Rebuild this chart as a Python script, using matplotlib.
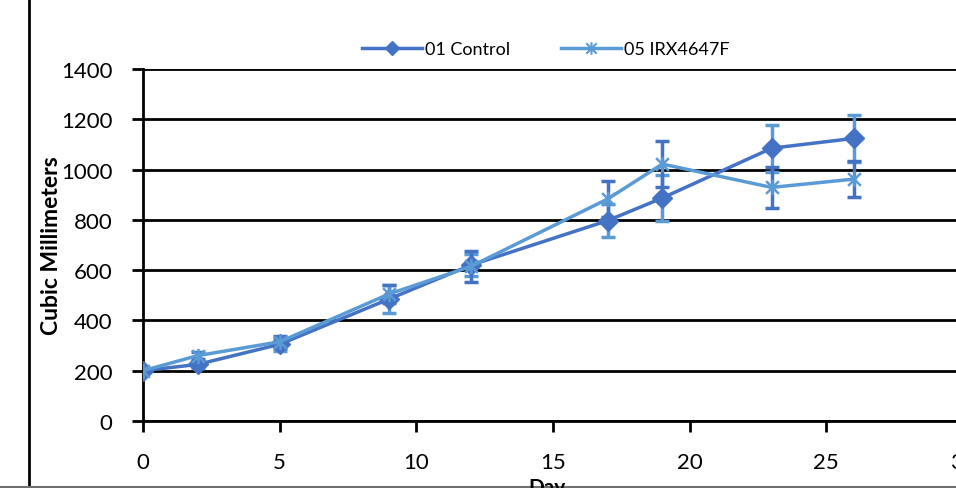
import matplotlib
matplotlib.use("Agg")
import matplotlib.pyplot as plt
from matplotlib.path import Path
from matplotlib.lines import Line2D

plt.rcParams['font.family'] = ['Lato', 'DejaVu Sans']

days = [0, 2, 5, 9, 12, 17, 19, 23, 26]
control = [200, 225, 305, 485, 620, 797, 887, 1085, 1124]
control_err = [5, 15, 25, 55, 45, 66, 90, 94, 93]
irx = [200, 260, 315, 505, 615, 883, 1022, 929, 962]
irx_err = [5, 15, 25, 35, 62, 73, 90, 83, 72]

series_names = ["01 Control", "05 IRX4647F"]
x_ticks = [0, 5, 10, 15, 20, 25, 30]
y_ticks = [0, 200, 400, 600, 800, 1000, 1200, 1400]

c_dark = "#4472C4"
c_light = "#5B9BD5"

star = Path([(-1, -1), (1, 1), (-1, 1), (1, -1), (0, -1.2), (0, 1.2)],
            [Path.MOVETO, Path.LINETO, Path.MOVETO, Path.LINETO, Path.MOVETO, Path.LINETO])

W, H = 956, 489
fig = plt.figure(figsize=(W / 100, H / 100), dpi=100)
ax = fig.add_axes([143 / W, 67 / H, 820 / W, 352 / H])

ax.set_xlim(0, 30)
ax.set_ylim(0, 1400)
ax.set_xticks(x_ticks)
ax.set_yticks(y_ticks)
ax.yaxis.grid(True, color="black", lw=2)
ax.set_axisbelow(True)
for s in ["top", "right"]:
    ax.spines[s].set_visible(False)
ax.spines["left"].set_linewidth(2)
ax.spines["bottom"].set_linewidth(2)
ax.tick_params(axis="both", length=8, width=2, labelsize=16, pad=14)

# error bars (colors as in reference)
ax.errorbar(days, control, yerr=control_err, fmt="none", ecolor=c_light,
            elinewidth=2.5, capsize=5, capthick=2.5, zorder=3)
ax.errorbar(days, irx, yerr=irx_err, fmt="none", ecolor=c_dark,
            elinewidth=2.5, capsize=5, capthick=2.5, zorder=3)

ax.plot(days, control, color=c_dark, lw=2.5, marker="D", markersize=10,
        zorder=4, label=series_names[0])
ax.plot(days, irx, color=c_light, lw=2.5, marker=star, markersize=11,
        markeredgewidth=1.8, zorder=5, label=series_names[1])

ax.set_ylabel("Cubic Millimeters", fontsize=16.5, fontweight="bold")
ax.yaxis.set_label_coords((62 - 143) / 820, 0.5)
fig.text(547 / W, 1 - 488 / H, "Day", fontsize=15, fontweight="bold",
         ha="center", va="center")

handles = [
    Line2D([], [], color=c_dark, lw=2.5, marker="D", markersize=7),
    Line2D([], [], color=c_light, lw=2.5, marker=star, markersize=9, markeredgewidth=1.5),
]
fig.legend(handles, series_names, loc="center", bbox_to_anchor=(546 / W, 1 - 50 / H),
           ncol=2, frameon=False, fontsize=13, handlelength=3.3, columnspacing=2.8,
           handletextpad=0.2)

# outer chart frame
fig.add_artist(Line2D([29 / W, 29 / W], [0, 1], color="black", lw=2, transform=fig.transFigure))
fig.add_artist(Line2D([0, 1], [1.5 / H, 1.5 / H], color="#707070", lw=1.5, transform=fig.transFigure))

fig.savefig("out.png", dpi=100)
